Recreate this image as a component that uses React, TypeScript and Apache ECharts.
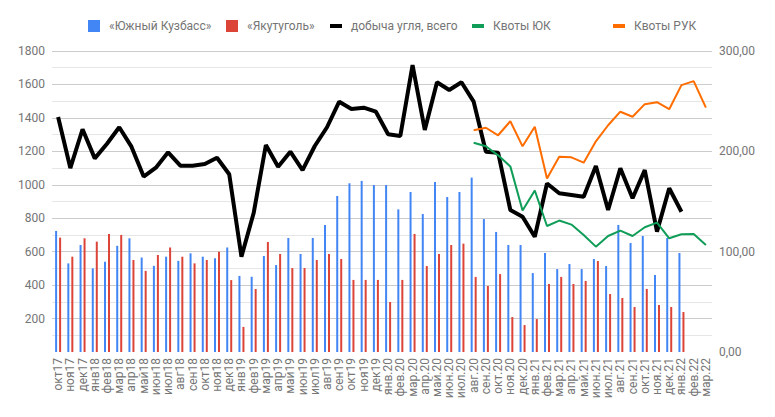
import React, { useEffect, useRef } from 'react';
import * as echarts from 'echarts';

const COLORS = {
  TEXT: '#757575',
  GRID: '#cccccc',
  MINOR: '#e6e6e6',
  BLUE: '#4285f4',
  RED: '#db4437',
  BLACK: '#000000',
  GREEN: '#0f9d58',
  ORANGE: '#ff6d01',
};

const FONT = 'Roboto, "Noto Sans", sans-serif';

const months = [
  'окт17', 'ноя17', 'дек17',
  'янв18', 'фев18', 'мар18', 'апр18', 'май18', 'июн18', 'июл18', 'авг18', 'сен18', 'окт18', 'ноя18', 'дек18',
  'янв19', 'фев19', 'мар19', 'апр19', 'май19', 'июн19', 'июл19', 'авг19', 'сен19', 'окт19', 'ноя19', 'дек19',
  'янв.20', 'фев.20', 'мар.20', 'апр.20', 'май.20', 'июн.20', 'июл.20', 'авг.20', 'сен.20', 'окт.20', 'ноя.20', 'дек.20',
  'янв.21', 'фев.21', 'мар.21', 'апр.21', 'май.21', 'июн.21', 'июл.21', 'авг.21', 'сен.21', 'окт.21', 'ноя.21', 'дек.21',
  'янв.22', 'фев.22', 'мар.22',
];

// «Южный Кузбасс»
const southKuzbass = [
  724, 530, 640,
  500, 540, 635, 680, 565, 515, 570, 545, 590, 570, 560, 625,
  455, 450, 574, 520, 682, 586, 682, 760, 933, 1009, 1023, 999,
  999, 853, 957, 825, 1017, 927, 957, 1043, 795, 718, 640, 640,
  472, 592, 496, 526, 496, 556, 514, 760, 652, 694, 460, 682,
  592, null, null,
];

// «Якутуголь»
const yakutugol = [
  684, 570, 680,
  660, 705, 700, 550, 485, 580, 625, 570, 530, 550, 600, 430,
  150, 377, 658, 586, 502, 502, 550, 586, 556, 431, 431, 431,
  299, 431, 706, 514, 586, 640, 648, 449, 395, 466, 209, 161,
  197, 407, 449, 407, 425, 544, 347, 323, 269, 377, 281, 269,
  239, null, null,
];

// добыча угля, всего
const coalTotal = [
  1405, 1100, 1332,
  1158, 1245, 1344, 1228, 1049, 1102, 1194, 1114, 1114, 1124, 1162, 1063,
  570, 831, 1238, 1108, 1198, 1088, 1232, 1344, 1497, 1453, 1461, 1437,
  1302, 1292, 1716, 1328, 1613, 1567, 1613, 1497, 1198, 1192, 849, 809,
  689, 1008, 949, 939, 929, 1112, 849, 1099, 919, 1088, 720, 979,
  839, null, null,
];

// квоты, правая ось (с авг.20)
const quotaStart = 34;
const quotaUK = [
  208.6, 205, 196, 185, 141,
  161, 125.6, 131, 127, 116.6, 105, 115.6, 121, 115.6, 124.3, 129, 113.3,
  117.3, 117.6, 106.6,
];
const quotaRUK = [
  221, 223.5, 216, 230, 205,
  224.5, 173, 194.5, 194, 188.7, 210, 226, 239.5, 234.5, 247, 249, 242,
  266, 270, 243.5,
];

const leftTicks = [0, 1800, 200];
const rightTicks = [0, 300, 100];

const padQuota = (vals: number[]) =>
  months.map((_, i) => (i >= quotaStart ? vals[i - quotaStart] : null));

const legendItem = (name: string, left: number, lineIcon: boolean) => ({
  data: [name],
  left,
  top: 15,
  icon: 'rect',
  itemWidth: 12,
  itemHeight: lineIcon ? 4 : 12,
  selectedMode: false,
  textStyle: {
    color: COLORS.TEXT,
    fontSize: 12,
    fontFamily: FONT,
    padding: [0, 0, 0, 4],
  },
});

const App: React.FC = () => {
  const divEL = useRef(null);

  useEffect(() => {
    document.body.style.margin = '0';
    const instance = echarts.init(divEL.current as any, null, { renderer: 'svg' });

    const option: any = {
      animation: false,
      textStyle: { fontFamily: FONT },
      legend: [
        legendItem('«Южный Кузбасс»', 83, false),
        legendItem('«Якутуголь»', 221, false),
        legendItem('добыча угля, всего', 325, true),
        legendItem('Квоты ЮК', 467, true),
        legendItem('Квоты РУК', 608, true),
      ],
      grid: {
        left: 52,
        right: 63,
        top: 51,
        bottom: 65,
      },
      xAxis: {
        type: 'category',
        data: months,
        axisLine: { show: false },
        axisTick: { show: false },
        axisLabel: {
          interval: 0,
          rotate: 90,
          margin: 6,
          color: COLORS.TEXT,
          fontSize: 12,
          fontFamily: FONT,
        },
      },
      yAxis: [
        {
          type: 'value',
          min: leftTicks[0],
          max: leftTicks[1],
          interval: leftTicks[2],
          axisLine: { show: false },
          axisTick: { show: false },
          axisLabel: {
            color: COLORS.TEXT,
            fontSize: 12,
            fontFamily: FONT,
            margin: 7,
            formatter: (v: number) => (v === 0 ? '' : String(v)),
          },
          splitLine: {
            lineStyle: {
              color: ['rgba(0,0,0,0)'].concat(Array(9).fill(COLORS.GRID)),
              width: 1,
            },
          },
          minorTick: { show: false, splitNumber: 2 },
          minorSplitLine: {
            show: true,
            lineStyle: { color: COLORS.MINOR, width: 1 },
          },
        },
        {
          type: 'value',
          min: rightTicks[0],
          max: rightTicks[1],
          interval: rightTicks[2],
          axisLine: { show: false },
          axisTick: { show: false },
          splitLine: { show: false },
          axisLabel: {
            color: COLORS.TEXT,
            fontSize: 12,
            fontFamily: FONT,
            margin: 7,
            formatter: (v: number) => v.toFixed(2).replace('.', ','),
          },
        },
      ],
      series: [
        {
          name: '«Южный Кузбасс»',
          type: 'bar',
          data: southKuzbass,
          barWidth: 2,
          barGap: '100%',
          itemStyle: { color: COLORS.BLUE },
        },
        {
          name: '«Якутуголь»',
          type: 'bar',
          data: yakutugol,
          barWidth: 2,
          barGap: '100%',
          itemStyle: { color: COLORS.RED },
        },
        {
          name: 'добыча угля, всего',
          type: 'line',
          data: coalTotal,
          symbol: 'none',
          itemStyle: { color: COLORS.BLACK },
          lineStyle: { color: COLORS.BLACK, width: 4 },
        },
        {
          name: 'Квоты ЮК',
          type: 'line',
          yAxisIndex: 1,
          data: padQuota(quotaUK),
          symbol: 'none',
          itemStyle: { color: COLORS.GREEN },
          lineStyle: { color: COLORS.GREEN, width: 2 },
        },
        {
          name: 'Квоты РУК',
          type: 'line',
          yAxisIndex: 1,
          data: padQuota(quotaRUK),
          symbol: 'none',
          itemStyle: { color: COLORS.ORANGE },
          lineStyle: { color: COLORS.ORANGE, width: 2 },
        },
      ],
    };

    instance.setOption(option);

    return () => {
      instance.dispose();
    };
  }, []);

  return <div ref={divEL} style={{ width: 775, height: 417 }}></div>;
};

export default App;
